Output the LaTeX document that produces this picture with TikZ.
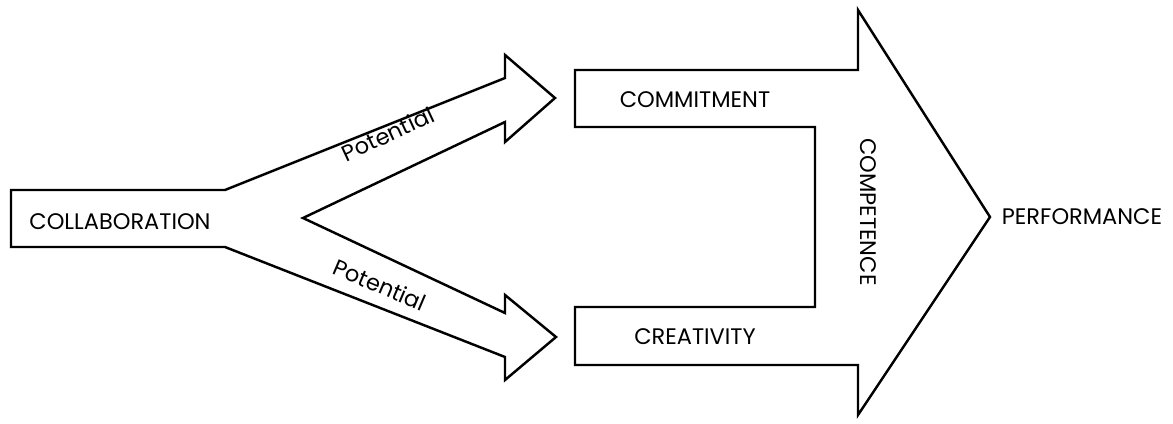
\documentclass[tikz,border=0pt]{standalone}
\usepackage{fontspec}
\newfontfamily\labelfont{Poppins}

\tikzset{
    outline/.style={line width=1.4pt,line join=miter},
    lbl/.style={inner sep=0pt,font=\labelfont\fontsize{12.8}{15}\selectfont}
}

\begin{document}
\begin{tikzpicture}[x=0.02cm,y=-0.02cm]

            \useasboundingbox (0,0) rectangle (1173,423);

            % collaboration block with the two potential arrows
            \path   (11,190)  coordinate (c1)
                    (225,190) coordinate (c2)
                    (505,78)  coordinate (u1)
                    (505,55)  coordinate (u2)
                    (555,98)  coordinate (u3)
                    (505,142) coordinate (u4)
                    (505,122) coordinate (u5)
                    (303,218) coordinate (notch)
                    (505,313) coordinate (l1)
                    (505,295) coordinate (l2)
                    (556,337) coordinate (l3)
                    (505,380) coordinate (l4)
                    (505,357) coordinate (l5)
                    (225,247) coordinate (c3)
                    (11,247)  coordinate (c4);

            % competence arrow
            \path   (575,70)  coordinate (k1)
                    (858,70)  coordinate (k2)
                    (858,10)  coordinate (k3)
                    (990,217) coordinate (tip)
                    (858,415) coordinate (k4)
                    (858,365) coordinate (k5)
                    (575,365) coordinate (k6)
                    (575,307) coordinate (k7)
                    (815,307) coordinate (k8)
                    (815,127) coordinate (k9)
                    (575,127) coordinate (k10);

            \draw[outline] (c1) -- (c2) -- (u1) -- (u2) -- (u3) -- (u4) -- (u5) -- (notch)
                    -- (l1) -- (l2) -- (l3) -- (l4) -- (l5) -- (c3) -- (c4) -- cycle;
            \draw[outline] (k1) -- (k2) -- (k3) -- (tip) -- (k4) -- (k5) -- (k6) -- (k7)
                    -- (k8) -- (k9) -- (k10) -- cycle;

            \path   (120,222) node (collab) [lbl] {COLLABORATION}
                    (388,134) node (pot1) [lbl,rotate=25] {Potential}
                    (380,285) node (pot2) [lbl,rotate=-23] {Potential}
                    (695,100) node (commit) [lbl] {COMMITMENT}
                    (695,337) node (creat) [lbl] {CREATIVITY}
                    (868,212) node (compet) [lbl,rotate=-90] {COMPETENCE}
                    (1082,217) node (perf) [lbl] {PERFORMANCE};

        \end{tikzpicture}
\end{document}
